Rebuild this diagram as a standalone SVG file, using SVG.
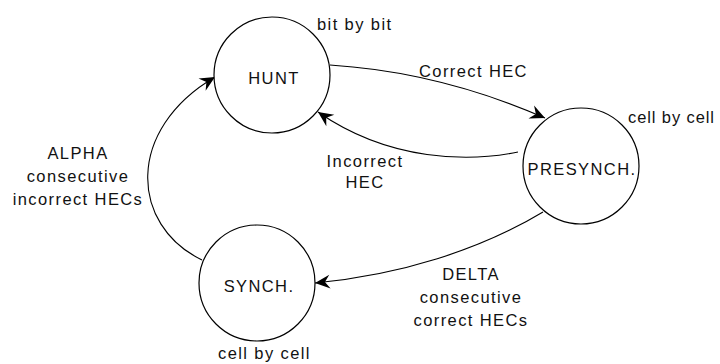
<svg xmlns="http://www.w3.org/2000/svg" width="720" height="364" viewBox="0 0 720 364">
<style>
text{font-family:"Liberation Sans",Arial,sans-serif;font-size:16.5px;letter-spacing:1.4px;fill:#111}
.m{text-anchor:middle}
.node circle{fill:#fff;stroke:#000;stroke-width:1.2}
.edge{fill:none;stroke:#000;stroke-width:1.1;marker-end:url(#ah)}
</style>
<defs>
<marker id="ah" markerUnits="userSpaceOnUse" markerWidth="20" markerHeight="16" viewBox="-16 -8 18 16" refX="0" refY="0" orient="auto">
<path d="M0,0 L-15,-7 L-10,0 L-15,7 Z" fill="#000"/>
</marker>
</defs>
<g id="connectors">
<path class="edge" d="M330,65 Q440,72 545,118"/>
<path class="edge" d="M518,152 C470,162 390,162 318,112"/>
<path class="edge" d="M202,260 C130,225 125,130 215,77"/>
<path class="edge" d="M543,212 C480,250 400,275 315,283"/>
</g>
<g id="hunt" class="node">
<circle cx="272" cy="75" r="58"/>
<text class="m" x="274" y="84">HUNT</text>
</g>
<g id="presynch" class="node">
<circle cx="581" cy="166" r="58"/>
<text class="m" x="582" y="175">PRESYNCH.</text>
</g>
<g id="synch" class="node">
<circle cx="257" cy="283" r="58"/>
<text class="m" x="259" y="292">SYNCH.</text>
</g>
<g id="labels">
<text x="317" y="30">bit by bit</text>
<text x="628" y="123" style="letter-spacing:0.9px">cell by cell</text>
<text x="218" y="359">cell by cell</text>
<text x="419" y="77">Correct HEC</text>
<text class="m" x="365" y="167">Incorrect</text>
<text class="m" x="365" y="188">HEC</text>
<text class="m" x="78" y="159">ALPHA</text>
<text class="m" x="78" y="182">consecutive</text>
<text class="m" x="78" y="205">incorrect HECs</text>
<text class="m" x="471" y="280">DELTA</text>
<text class="m" x="471" y="303">consecutive</text>
<text class="m" x="471" y="326">correct HECs</text>
</g>
</svg>
